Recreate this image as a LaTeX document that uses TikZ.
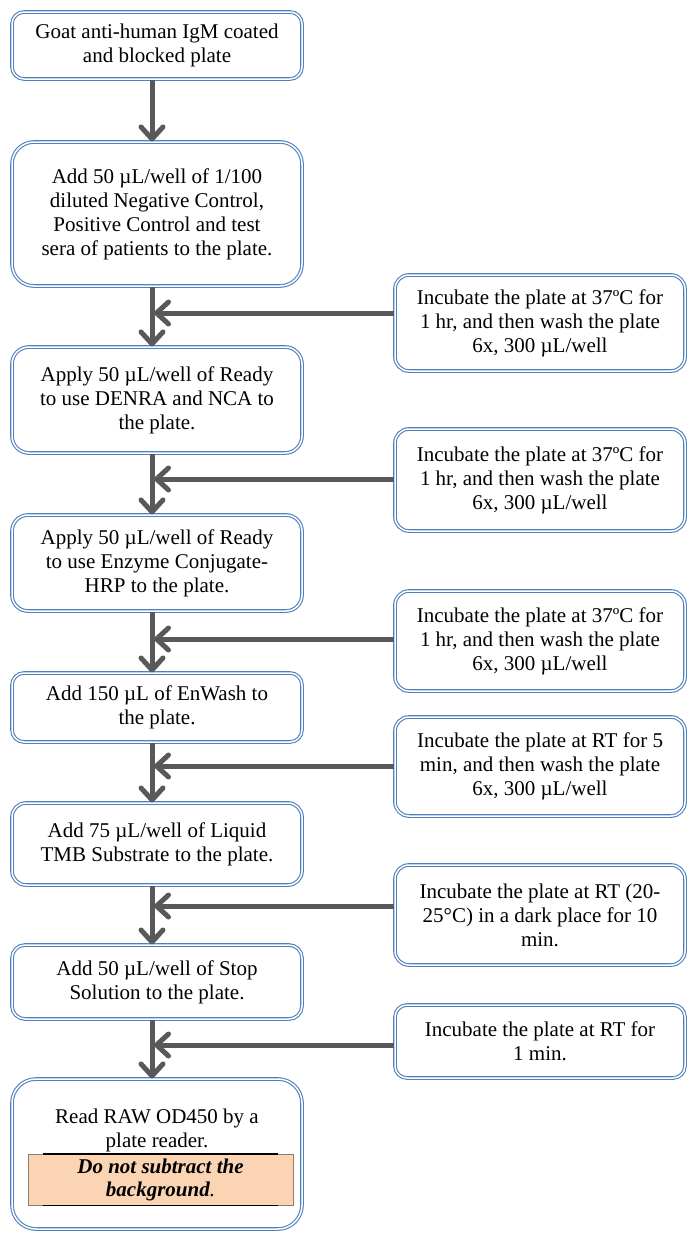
\documentclass[tikz,border=0pt]{standalone}
\usepackage{fontspec}
\setmainfont{Liberation Serif}
\usetikzlibrary{arrows.meta,calc,positioning}
\definecolor{boxblue}{HTML}{4F81BD}
\definecolor{arrowgray}{HTML}{595959}
\definecolor{peach}{HTML}{FBD4B4}
\definecolor{notebrown}{HTML}{8C7B70}

\begin{document}
\begin{tikzpicture}[x=1pt,y=-1pt,
stepbox/.style={draw=boxblue,double=white,double distance=1.5pt,line width=1.1pt,
  rounded corners=14pt,minimum width=290pt,align=center,
  font=\fontsize{21}{24}\selectfont},
flow/.style={draw=arrowgray,line width=5pt,
  -{Straight Barb[length=12pt,width=22pt,round]}},
notebox/.style={fill=peach,draw=notebrown,line width=0.8pt,minimum width=265pt,
  minimum height=51pt,inner sep=0pt,align=center,
  font=\fontsize{21}{23}\selectfont\bfseries\itshape}]
\useasboundingbox (0,0) rectangle (688,1234);
\coordinate (S) at (152,0);
% steps on the left
\node[stepbox,minimum height=67pt,rounded corners=12pt] (L1) at (157,45.5) {Goat anti-human IgM coated\\and blocked plate};
\node[stepbox,minimum height=144pt,rounded corners=22pt] (L2) at (157,214) {Add 50 µL/well of 1/100\\diluted Negative Control,\\Positive Control and test\\sera of patients to the plate.};
\node[stepbox,minimum height=106pt,rounded corners=17pt] (L3) at (157,400) {Apply 50 µL/well of Ready\\to use DENRA and NCA to\\the plate.};
\node[stepbox,minimum height=96pt,rounded corners=16pt] (L4) at (157,563) {Apply 50 µL/well of Ready\\to use Enzyme Conjugate-\\HRP to the plate.};
\node[stepbox,minimum height=69pt,rounded corners=12pt] (L5) at (157,707.5) {Add 150 µL of EnWash to\\the plate.};
\node[stepbox,minimum height=82pt] (L6) at (157,844) {Add 75 µL/well of Liquid\\TMB Substrate to the plate.};
\node[stepbox,minimum height=74pt,rounded corners=13pt] (L7) at (157,982) {Add 50 µL/well of Stop\\Solution to the plate.};
\node[stepbox,minimum height=150pt,rounded corners=24pt] (L8) at (157,1154) {};
\node[align=center,font=\fontsize{21}{24}\selectfont] (L8txt) at (157,1130) {Read RAW OD450 by a\\plate reader.};
\node[notebox] (N) at (160.5,1179.5) {Do not subtract the\\background\textmd{.}};
\draw[line width=1.8pt] ($(N.north west)+(15,0)$) -- ($(N.north east)+(-15,0)$);
\draw[line width=1.8pt] ($(N.south west)+(15,0)$) -- ($(N.south east)+(-15,0)$);
% incubation steps on the right
\node[stepbox,minimum height=96pt] (R1) at (540,323) {Incubate the plate at 37ºC for\\1 hr, and then wash the plate\\6x, 300 µL/well};
\node[stepbox,minimum height=102pt] (R2) at (540,480) {Incubate the plate at 37ºC for\\1 hr, and then wash the plate\\6x, 300 µL/well};
\node[stepbox,minimum height=100pt] (R3) at (540,641) {Incubate the plate at 37ºC for\\1 hr, and then wash the plate\\6x, 300 µL/well};
\node[stepbox,minimum height=99pt] (R4) at (540,766.5) {Incubate the plate at RT for 5\\min, and then wash the plate\\6x, 300 µL/well};
\node[stepbox,minimum height=100pt] (R5) at (540,915) {Incubate the plate at RT (20-\\25°C) in a dark place for 10\\min.};
\node[stepbox,minimum height=73pt,rounded corners=12pt] (R6) at (540,1041.5) {Incubate the plate at RT for\\1 min.};
\coordinate (J1) at (154,313);
\coordinate (J2) at (154,479);
\coordinate (J3) at (154,639);
\coordinate (J4) at (154,766);
\coordinate (J5) at (154,906);
\coordinate (J6) at (154,1045);
% arrows
\foreach \a/\b in {L1/L2,L2/L3,L3/L4,L4/L5,L5/L6,L6/L7,L7/L8}
  \draw[flow] (\a.south -| S) -- (\b.north -| S);
\foreach \i in {1,...,6}
  \draw[flow] (R\i.west |- J\i) -- (J\i);
\end{tikzpicture}
\end{document}
